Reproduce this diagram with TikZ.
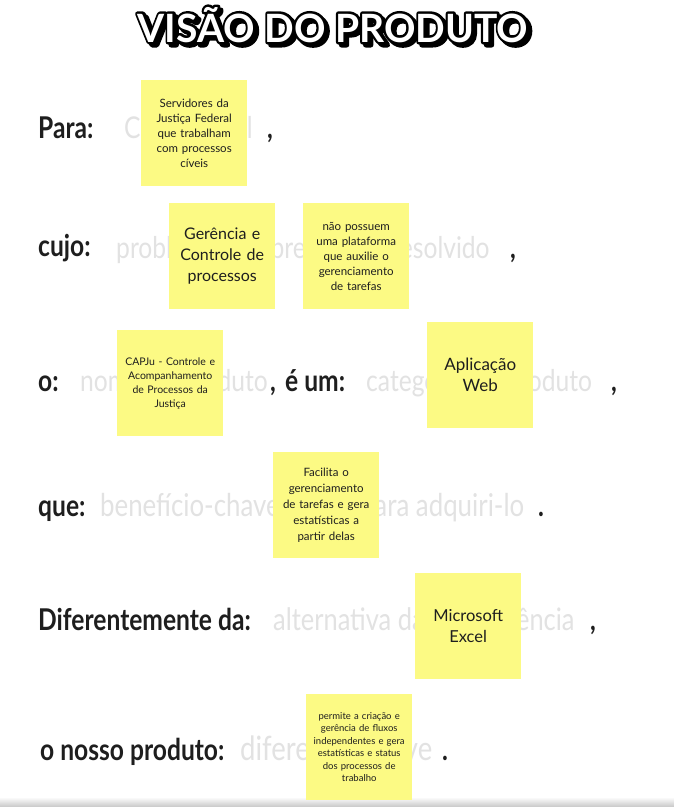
\documentclass[tikz,border=0pt]{standalone}
\usepackage{fontspec}
\usetikzlibrary{calc}
\setmainfont{Lato}
\newfontfamily\lblfont{Lato}[FakeStretch=0.82]
\newfontfamily\notefont{Lato}
\definecolor{sticky}{RGB}{252,250,132}
\definecolor{phgray}{RGB}{226,226,226}
\definecolor{ink}{RGB}{30,30,30}
\newcommand\strokedtext[2]{\special{pdf:literal direct 2 Tr #1 w 1 j 1 J}#2\special{pdf:literal direct 0 Tr}}
\begin{document}
\begin{tikzpicture}[x=1pt,y=-1pt,
  lbl/.style={anchor=base west, inner sep=0pt, font=\lblfont\bfseries\fontsize{30}{30}\selectfont, text=ink},
  ph/.style={anchor=base west, inner sep=0pt, font=\lblfont\fontsize{30}{30}\selectfont, text=phgray},
  note/.style={anchor=north west, fill=sticky, minimum width=106pt, minimum height=106pt, inner sep=0pt, text width=100pt, align=center, text=ink},
  ttl/.style={anchor=base, inner sep=0pt, font=\notefont\bfseries\fontsize{39}{39}\selectfont},
]
\useasboundingbox (0,0) rectangle (674,807);
\fill[white] (0,0) rectangle (674,807);
\shade[top color=white, bottom color=black!22] (0,797) rectangle (674,807);

% title: shadow, outline, white fill
\coordinate (tc) at (333,42);
\node[ttl, text=black] (tshadow) at ($(tc)+(3,3)$) {\strokedtext{5}{VISÃO DO PRODUTO}};
\node[ttl, text=black] (toutline) at (tc) {\strokedtext{5}{VISÃO DO PRODUTO}};
\node[ttl, text=white] (title) at (tc) {VISÃO DO PRODUTO};

% row 1
\node[lbl] (l1) at (38,138) {Para:};
\node[ph] (p1) at (124,138) {Cliente final};
\node[lbl] (c1) at (267,138) {,};
% row 2
\node[lbl] (l2) at (38,256) {cujo:};
\node[ph] (p2) at (116,258) {problema que precisa ser resolvido};
\node[lbl] (c2) at (510,258) {,};
% row 3
\node[lbl] (l3) at (38,391) {o:};
\node[ph] (p3) at (80,391) {nome do produto};
\node[lbl] (c3) at (270,391) {,};
\node[lbl] (l3b) at (285,391) {é um:};
\node[ph] (p3b) at (366,391) {categoria do produto};
\node[lbl] (c3b) at (611,391) {,};
% row 4
\node[lbl] (l4) at (38,516) {que:};
\node[ph, font=\lblfont\fontsize{31.5}{31.5}\selectfont] (p4) at (100,516) {benefício-chave, razão para adquiri-lo};
\node[lbl] (c4) at (538,516) {.};
% row 5
\node[lbl] (l5) at (38,630) {Diferentemente da:};
\node[ph, font=\lblfont\fontsize{31}{31}\selectfont] (p5) at (273,630) {alternativa da concorrência};
\node[lbl] (c5) at (590,630) {,};
% row 6
\node[lbl] (l6) at (40,760) {o nosso produto:};
\node[ph, font=\lblfont\fontsize{33.5}{33.5}\selectfont] (p6) at (240,760) {diferença-chave};
\node[lbl] (c6) at (442,760) {.};

% sticky notes
\node[note, font=\notefont\fontsize{11.5}{15}\selectfont] (n1) at (141,80)
  {Servidores da\\Justiça Federal\\que trabalham\\com processos\\cíveis};
\node[note, font=\notefont\fontsize{16}{21}\selectfont] (n2) at (169,203)
  {Gerência e\\Controle de\\processos};
\node[note, font=\notefont\fontsize{11.5}{15}\selectfont] (n3) at (303,203)
  {não possuem\\uma plataforma\\que auxilie o\\gerenciamento\\de tarefas};
\node[note, font=\notefont\fontsize{10.5}{14}\selectfont] (n4) at (117,330)
  {CAPJu - Controle e\\Acompanhamento\\de Processos da\\Justiça};
\node[note, font=\notefont\fontsize{17}{21}\selectfont] (n5) at (427,322)
  {Aplicação\\Web};
\node[note, font=\notefont\fontsize{11.5}{16}\selectfont] (n6) at (273,452)
  {Facilita o\\gerenciamento\\de tarefas e gera\\estatísticas a\\partir delas};
\node[note, font=\notefont\fontsize{16.5}{21}\selectfont] (n7) at (415,573)
  {Microsoft\\Excel};
\node[note, font=\notefont\fontsize{9.5}{12.5}\selectfont] (n8) at (306,694)
  {permite a criação e\\gerência de fluxos\\independentes e gera\\estatísticas e status\\dos processos de\\trabalho};
\end{tikzpicture}
\end{document}
